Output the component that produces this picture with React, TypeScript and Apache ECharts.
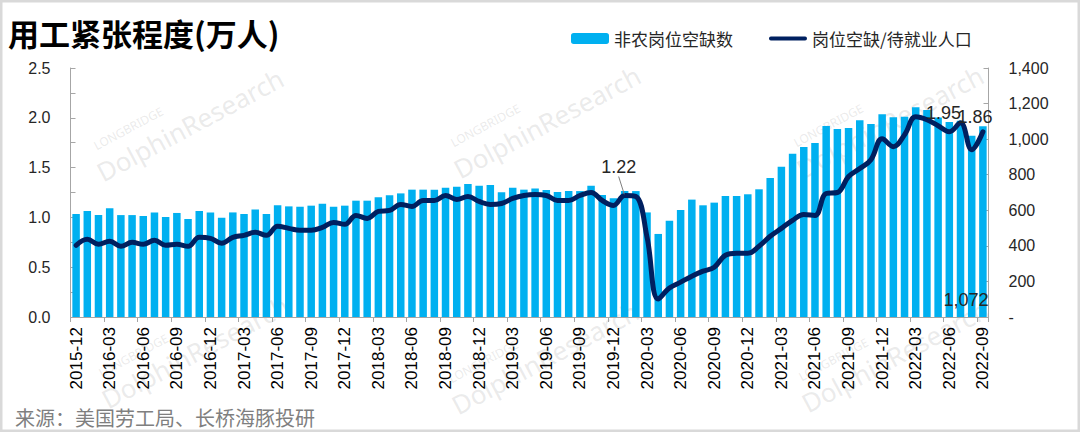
import React, { useEffect, useRef } from 'react';
import * as echarts from 'echarts';

const categories = [
  '2015-12',
  '2016-01', '2016-02', '2016-03', '2016-04', '2016-05', '2016-06', '2016-07', '2016-08', '2016-09', '2016-10', '2016-11', '2016-12',
  '2017-01', '2017-02', '2017-03', '2017-04', '2017-05', '2017-06', '2017-07', '2017-08', '2017-09', '2017-10', '2017-11', '2017-12',
  '2018-01', '2018-02', '2018-03', '2018-04', '2018-05', '2018-06', '2018-07', '2018-08', '2018-09', '2018-10', '2018-11', '2018-12',
  '2019-01', '2019-02', '2019-03', '2019-04', '2019-05', '2019-06', '2019-07', '2019-08', '2019-09', '2019-10', '2019-11', '2019-12',
  '2020-01', '2020-02', '2020-03', '2020-04', '2020-05', '2020-06', '2020-07', '2020-08', '2020-09', '2020-10', '2020-11', '2020-12',
  '2021-01', '2021-02', '2021-03', '2021-04', '2021-05', '2021-06', '2021-07', '2021-08', '2021-09', '2021-10', '2021-11', '2021-12',
  '2022-01', '2022-02', '2022-03', '2022-04', '2022-05', '2022-06', '2022-07', '2022-08', '2022-09',
];

// 非农岗位空缺数 (万人) — right axis
const vacancies = [
  579, 596, 573, 611, 573, 573, 568, 588, 562, 585,
  551, 596, 588, 558, 588, 579, 605, 579, 628, 622,
  620, 626, 637, 620, 626, 654, 654, 673, 684, 695,
  716, 716, 716, 727, 733, 748, 738, 742, 701, 727,
  716, 723, 714, 703, 708, 708, 738, 686, 667, 708,
  708, 588, 467, 541, 602, 660, 628, 643, 680, 680,
  690, 718, 781, 845, 918, 956, 978, 1074, 1057, 1063,
  1106, 1085, 1140, 1123, 1126, 1179, 1164, 1121, 1096, 1104,
  1019, 1072,
];

// 岗位空缺/待就业人口 — left axis
const ratio = [
  0.72, 0.78, 0.73, 0.76, 0.71, 0.75, 0.73, 0.77, 0.72, 0.73,
  0.71, 0.80, 0.79, 0.74, 0.80, 0.82, 0.85, 0.82, 0.91, 0.89,
  0.87, 0.87, 0.90, 0.95, 0.93, 1.02, 0.99, 1.06, 1.07, 1.13,
  1.11, 1.17, 1.17, 1.22, 1.18, 1.21, 1.16, 1.13, 1.14, 1.19,
  1.22, 1.23, 1.22, 1.17, 1.17, 1.22, 1.25, 1.17, 1.12, 1.22,
  1.21, 0.80, 0.18, 0.29, 0.35, 0.41, 0.46, 0.50, 0.62, 0.64,
  0.64, 0.71, 0.81, 0.89, 0.97, 1.03, 1.02, 1.24, 1.25, 1.41,
  1.49, 1.58, 1.79, 1.71, 1.83, 2.01, 1.98, 1.92, 1.86, 1.95,
  1.68, 1.86,
];

const labelledLinePoints = [49, 79, 81];

const leftTicks = { min: 0, max: 2.5, interval: 0.5 };
const rightTicks = { min: 0, max: 1400, interval: 200 };

const TITLE = '用工紧张程度(万人)';
const SOURCE = '来源：美国劳工局、长桥海豚投研';
const BAR_NAME = '非农岗位空缺数';
const LINE_NAME = '岗位空缺/待就业人口';

const CJK = '"Noto Sans CJK SC", "Noto Sans", sans-serif';
const NUM = '"Liberation Sans", Arial, sans-serif';

export default function App() {
  const ref = useRef<HTMLDivElement>(null);

  useEffect(() => {
    if (!ref.current) return;
    const chart = echarts.init(ref.current, null, { renderer: 'svg' });

    const lineData = ratio.map((v, i) => {
      if (!labelledLinePoints.includes(i)) return v;
      const item: any = { value: v, label: { show: true } };
      if (i === 49) item.labelLine = { show: true };
      return item;
    });
    const barData = vacancies.map((v, i) =>
      i === vacancies.length - 1
        ? { value: v, label: { show: true, position: 'insideBottom', offset: [-17, -3] } }
        : v
    );

    const labelShift: Record<number, { dx: number; dy: number }> = {
      49: { dx: -6, dy: -13 },
      79: { dx: -17, dy: 5 },
      81: { dx: -8, dy: 0 },
    };

    const axisGray = '#a6a6a6';

    const watermark = (cx: number, cy: number) => ({
      type: 'group',
      x: cx,
      y: cy,
      rotation: 0.49,
      silent: true,
      z: 100,
      children: [
        {
          type: 'text',
          x: 0,
          y: 0,
          style: {
            text: 'DolphinResearch',
            font: '26px "Noto Sans", sans-serif',
            fill: 'rgba(150,150,150,0.2)',
            align: 'center',
            verticalAlign: 'middle',
          },
        },
        {
          type: 'text',
          x: -56,
          y: -26,
          style: {
            text: 'LONGBRIDGE',
            font: '12px "Noto Sans", sans-serif',
            fill: 'rgba(150,150,150,0.2)',
            align: 'center',
            verticalAlign: 'middle',
          },
        },
      ],
    });

    const option: any = {
      animation: false,
      backgroundColor: '#ffffff',
      title: {
        text: TITLE,
        left: 8,
        top: 17,
        padding: 0,
        textStyle: { fontSize: 31, fontWeight: 'bold', fontFamily: CJK, color: '#000000' },
      },
      legend: {
        left: 566,
        top: 25,
        itemGap: 36,
        itemWidth: 38,
        itemHeight: 11,
        data: [
          { name: BAR_NAME },
          {
            name: LINE_NAME,
            icon: 'path://M2,0 L38,0 A2,2 0 0 1 38,4 L2,4 A2,2 0 0 1 2,0 Z',
          },
        ],
        textStyle: { fontSize: 17, fontFamily: CJK, color: '#262626' },
      },
      grid: {
        left: 70.5,
        right: 91.5,
        top: 68,
        bottom: 115,
        containLabel: false,
        outerBoundsMode: 'none',
      },
      xAxis: {
        type: 'category',
        data: categories,
        boundaryGap: true,
        axisLine: { lineStyle: { color: axisGray, width: 1 } },
        axisTick: { show: true, interval: 2, length: 5, lineStyle: { color: axisGray } },
        axisLabel: {
          interval: 2,
          rotate: 90,
          fontSize: 17,
          fontFamily: NUM,
          color: '#000000',
          margin: 10,
        },
      },
      yAxis: [
        {
          type: 'value',
          position: 'left',
          min: leftTicks.min,
          max: leftTicks.max,
          interval: leftTicks.interval,
          axisLine: { show: true, lineStyle: { color: axisGray } },
          axisTick: { show: true, inside: true, length: 5, lineStyle: { color: axisGray } },
          minorTick: { show: true, splitNumber: 2, length: 5, lineStyle: { color: axisGray } },
          splitLine: { show: false },
          axisLabel: {
            formatter: (v: number) => v.toFixed(1),
            fontSize: 16,
            fontFamily: NUM,
            color: '#262626',
            margin: 20,
          },
        },
        {
          type: 'value',
          position: 'right',
          min: rightTicks.min,
          max: rightTicks.max,
          interval: rightTicks.interval,
          axisLine: { show: true, lineStyle: { color: axisGray } },
          axisTick: { show: true, inside: true, length: 5, lineStyle: { color: axisGray } },
          splitLine: { show: false },
          axisLabel: {
            formatter: (v: number) => (v === 0 ? '-' : v.toLocaleString('en-US')),
            fontSize: 16,
            fontFamily: NUM,
            color: '#262626',
            margin: 20,
          },
        },
      ],
      series: [
        {
          name: BAR_NAME,
          type: 'bar',
          yAxisIndex: 1,
          data: barData,
          barCategoryGap: '33%',
          itemStyle: { color: '#00B0F0' },
          label: {
            show: false,
            fontSize: 18,
            fontFamily: NUM,
            color: '#262626',
            formatter: (p: any) => Number(p.value).toLocaleString('en-US'),
          },
        },
        {
          name: LINE_NAME,
          type: 'line',
          yAxisIndex: 0,
          data: lineData,
          smooth: 0.4,
          symbol: 'circle',
          symbolSize: 2,
          showSymbol: true,
          showAllSymbol: true,
          itemStyle: { color: '#002060' },
          lineStyle: { color: '#002060', width: 5, cap: 'round', join: 'round' },
          label: {
            show: false,
            position: 'top',
            distance: 5,
            fontSize: 18,
            fontFamily: NUM,
            color: '#262626',
          },
          labelLine: { lineStyle: { color: '#7f7f7f', width: 1 } },
          labelLayout: (p: any) => labelShift[p.dataIndex] || {},
          z: 3,
        },
      ],
      graphic: [
        {
          type: 'rect',
          silent: true,
          shape: { x: 1, y: 1, width: 1078, height: 430 },
          style: { fill: 'none', stroke: '#d9d9d9', lineWidth: 3 },
          z: 200,
        },
        {
          type: 'text',
          left: 15,
          top: 407,
          silent: true,
          style: { text: SOURCE, font: `20px ${CJK}`, fill: '#7f7f7f' },
        },
        watermark(190, 125),
        watermark(547, 122),
        watermark(890, 122),
        watermark(195, 352),
        watermark(545, 358),
        watermark(895, 356),
      ],
    };

    chart.setOption(option);
    return () => chart.dispose();
  }, []);

  return (
    <div
      ref={ref}
      style={{ position: 'absolute', left: 0, top: 0, width: 1080, height: 432 }}
    />
  );
}
